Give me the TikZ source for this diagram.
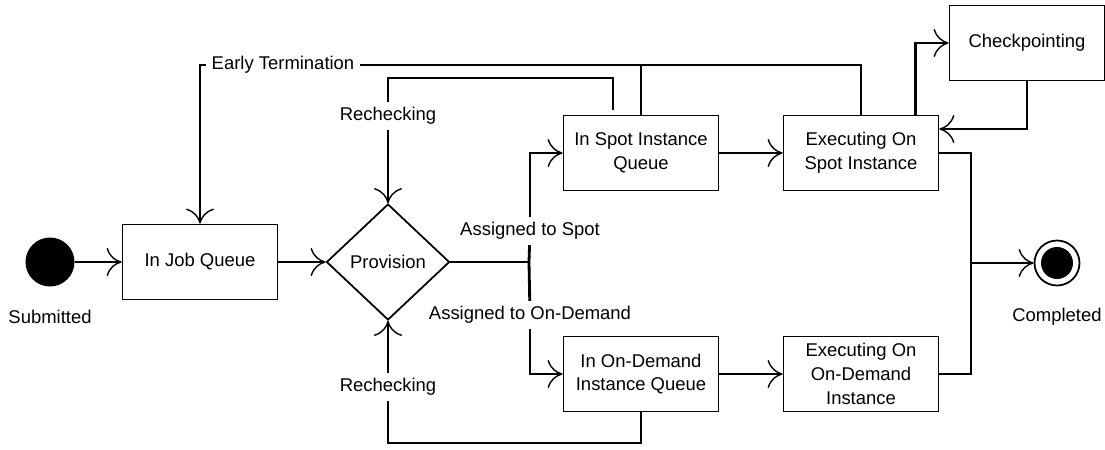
\documentclass[tikz,border=0pt]{standalone}
\usepackage{fontspec}
\setmainfont{Liberation Sans}
\usetikzlibrary{shapes.geometric,arrows.meta}

\begin{document}
\begin{tikzpicture}[x=0.2mm, y=-0.2mm,
        font=\fontsize{10.5}{13.6}\selectfont,
        statebox/.style={draw, line width=1pt, fill=white, minimum width=3.1cm,
            minimum height=1.5cm, align=center, inner sep=2pt},
        choice/.style={draw, diamond, line width=1pt, minimum width=2.46cm,
            minimum height=2.32cm, inner sep=0pt},
        startstate/.style={circle, fill, minimum size=0.98cm, inner sep=0pt},
        endstate/.style={circle, draw, line width=1pt, minimum size=0.9cm, inner sep=0pt,
            path picture={\fill (path picture bounding box.center) circle (3.2mm);}},
        guard/.style={inner sep=3pt},
        flow/.style={line width=1.6pt},
        arrowflow/.style={flow, -{Computer Modern Rightarrow[length=3mm, width=5.6mm, line width=0.8pt]}}]
    \useasboundingbox (0,0) rectangle (1105,449);

    % States
    \node[startstate] (start) at (50,262) {};
    \node (submitted) at (50,317) {Submitted};
    \node[statebox] (jobq) at (200,262) {In Job Queue};
    \node[choice] (prov) at (388,262) {Provision};
    \node[statebox] (spotq) at (641,153) {In Spot Instance\\Queue};
    \node[statebox] (odq) at (641,374) {In On-Demand\\Instance Queue};
    \node[statebox] (exspot) at (861,153) {Executing On\\Spot Instance};
    \node[statebox] (exod) at (861,374) {Executing On\\On-Demand\\Instance};
    \node[statebox] (ckpt) at (1027,43) {Checkpointing};
    \node[endstate] (done) at (1057,263) {};
    \node (completed) at (1057,317) {Completed};

    % Transition labels
    \node[guard] (early) at (283,65) {Early Termination};
    \node[guard] (rechkup) at (388,116) {Rechecking};
    \node[guard] (rechkdn) at (388,387) {Rechecking};
    \node[guard] (aspot) at (530,231) {Assigned to Spot};
    \node[guard] (aod) at (530,315) {Assigned to On-Demand};

    % Branch and merge points
    \coordinate (split) at (529,262);
    \coordinate (join) at (971,263);
    \coordinate (loopup) at (388,78);
    \coordinate (loopdn) at (388,443);

    % Main flow
    \draw[arrowflow] (start) -- (jobq);
    \draw[arrowflow] (jobq) -- (prov);
    \draw[flow] (prov) -- (split);
    \draw[flow] (split) -- (aspot);
    \draw[flow] (split) -- (aod);
    \draw[arrowflow] (aspot) |- (spotq);
    \draw[arrowflow] (aod) |- (odq);
    \draw[arrowflow] (spotq) -- (exspot);
    \draw[arrowflow] (odq) -- (exod);

    % Checkpoint loop
    \draw[arrowflow] ([xshift=-4.8mm]exspot.north east) |- (ckpt);
    \draw[arrowflow] (ckpt.south) |- ([yshift=4.8mm]exspot.east);

    % Completion
    \draw[flow] (exspot) -| (join);
    \draw[flow] (exod) -| (join);
    \draw[arrowflow] (join) -- (done);

    % Early termination back to the job queue
    \draw[flow] (exspot) |- (early);
    \draw[flow] (spotq.north) -- (spotq.north |- early);
    \draw[arrowflow] (early) -| (jobq);

    % Rechecking loops
    \draw[flow] ([xshift=-5.6mm,yshift=1mm]spotq.north) |- (loopup) -- (rechkup);
    \draw[arrowflow] (rechkup) -- (prov);
    \draw[flow] (odq.south) |- (loopdn) -- (rechkdn);
    \draw[arrowflow] (rechkdn) -- (prov);
\end{tikzpicture}
\end{document}
